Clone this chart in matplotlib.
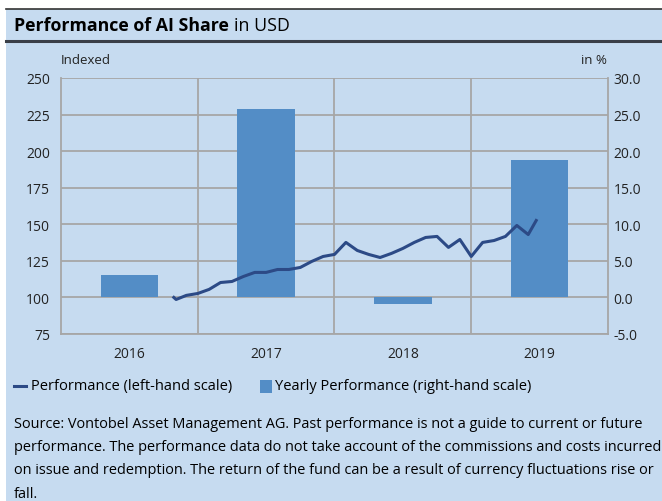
import numpy as np
import matplotlib.pyplot as plt
from matplotlib.patches import Rectangle

plt.rcParams['font.family'] = ['Open Sans', 'DejaVu Sans']

# --- Data ---
years = ['2016', '2017', '2018', '2019']
yearly_perf = [3.0, 25.7, -0.9, 18.8]          # % (right-hand scale)

# month index counted from Jan 2016 (0 = start of 2016)
months = [9.9, 10.1, 11, 12, 13, 14, 15, 16, 17, 18, 19, 20, 21, 22, 23, 24,
          25, 26, 27, 28, 29, 30, 31, 32, 33, 34, 35, 36, 37, 38, 39, 40, 41, 41.7]
index_vals = [100.0, 98.6, 101.4, 102.7, 105.5, 110.2, 110.9, 114.3, 117.1, 117.1,
              119.1, 119.1, 120.5, 124.6, 128.0, 129.4, 137.6, 132.1, 129.4, 127.3,
              130.1, 133.5, 137.6, 141.0, 141.7, 134.2, 139.6, 128.0, 137.6, 138.9,
              141.7, 149.2, 143.0, 152.6]

bg = '#c6dbf0'
grid_c = '#a6a6a6'
bar_c = '#538dc6'
line_c = '#2c4a86'

fig = plt.figure(figsize=(6.62, 5.02), dpi=100)
fig.patch.set_facecolor('white')
W, H = 662, 502

def fx(px):
    return px / W

def fy(py):
    return 1 - py / H

# blue panel with white margin top/left
fig.patches.append(Rectangle((fx(6), 0), 1 - fx(6), fy(10), transform=fig.transFigure,
                             facecolor=bg, edgecolor='none', zorder=-5))
fig.add_artist(plt.Line2D([fx(6), 1], [fy(10), fy(10)], color='#333333', lw=1.2, zorder=-4))
fig.add_artist(plt.Line2D([fx(6), 1], [fy(42), fy(42)], color='#3a3f48', lw=2.2, zorder=-4))

t1 = fig.text(fx(14), fy(26), 'Performance of AI Share', fontsize=12.8, fontweight='bold',
              va='center', ha='left', color='black')
fig.canvas.draw()
bb = t1.get_window_extent()
fig.text((bb.x1 + 5) / W, fy(26), 'in USD', fontsize=12.8, va='center', ha='left',
         color='black')

# --- Axes ---
ax = fig.add_axes([fx(61), fy(335), fx(608) - fx(61), (335 - 79) / H])
ax2 = ax.twinx()
ax2.set_zorder(1)
ax.set_zorder(2)
ax.patch.set_visible(False)
ax2.patch.set_visible(True)
ax2.patch.set_facecolor(bg)

x = np.arange(len(years))
ax2.bar(x, yearly_perf, width=0.42, color=bar_c, zorder=2)
ax2.set_ylim(-5, 30)
ax2.set_yticks(np.arange(-5, 31, 5))
ax2.set_yticklabels([f'{v:.1f}' for v in np.arange(-5, 31, 5)])

mx = [m / 12 - 0.5 for m in months]
ax.plot(mx, index_vals, color=line_c, lw=2.2, zorder=3)

ax.set_ylim(75, 250)
ax.set_yticks(np.arange(75, 251, 25))
ax.set_xlim(-0.5, 3.5)
ax.set_xticks(x)
ax.set_xticklabels(years)

# gridlines drawn on ax2 (behind bars)
for v in np.arange(-5, 31, 5):
    ax2.axhline(v, color=grid_c, lw=1.3, zorder=1)
for b in [0.5, 1.5, 2.5]:
    ax2.axvline(b, color=grid_c, lw=1.3, zorder=1)

for a in (ax, ax2):
    for s in a.spines.values():
        s.set_visible(False)
    a.tick_params(length=0, labelsize=10, colors='#222222')
for side in ('left', 'bottom', 'right'):
    ax.spines[side].set_visible(True)
    ax.spines[side].set_color(grid_c)
    ax.spines[side].set_linewidth(1.3)
ax.tick_params(axis='y', pad=8)
ax.tick_params(axis='x', pad=9)
ax2.tick_params(axis='y', pad=4)

fig.text(fx(61), fy(60), 'Indexed', fontsize=9.5, ha='left', va='center', color='#222222')
fig.text(fx(607), fy(60), 'in %', fontsize=9.5, ha='right', va='center', color='#222222')

# --- Legend ---
fig.add_artist(plt.Line2D([fx(14), fx(26)], [fy(387), fy(387)], color=line_c, lw=2.2))
fig.text(fx(31), fy(387), 'Performance (left-hand scale)', fontsize=10.5, ha='left',
         va='center', color='black')
fig.patches.append(Rectangle((fx(260), fy(394)), 12 / W, 13 / H, transform=fig.transFigure,
                             facecolor=bar_c, edgecolor='none'))
fig.text(fx(275), fy(387), 'Yearly Performance (right-hand scale)', fontsize=10.5,
         ha='left', va='center', color='black')

source = ('Source: Vontobel Asset Management AG. Past performance is not a guide to current or future\n'
          'performance. The performance data do not take account of the commissions and costs incurred\n'
          'on issue and redemption. The return of the fund can be a result of currency fluctuations rise or\n'
          'fall.')
fig.text(fx(14), fy(417), source, fontsize=10.45, ha='left', va='top', color='black',
         linespacing=1.75)

fig.savefig('out.png', dpi=100, facecolor=fig.get_facecolor())
